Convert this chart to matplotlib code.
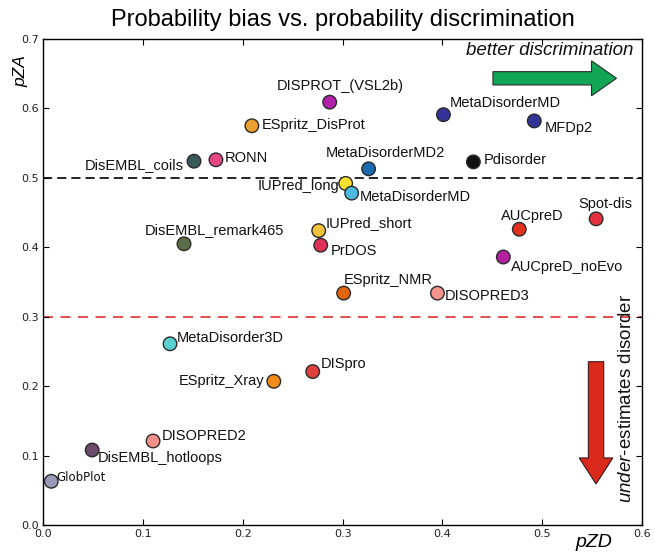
import matplotlib
matplotlib.use("Agg")
import matplotlib.pyplot as plt
from matplotlib.patches import FancyArrow

plt.rcParams['mathtext.fontset'] = 'custom'
plt.rcParams['mathtext.it'] = 'Liberation Sans:italic'
plt.rcParams['mathtext.rm'] = 'Liberation Sans'

# ---- data ----
methods = ["GlobPlot", "DisEMBL_hotloops", "DISOPRED2", "MetaDisorder3D",
           "ESpritz_Xray", "DISpro", "ESpritz_NMR", "DISOPRED3",
           "DisEMBL_remark465", "IUPred_short", "PrDOS", "IUPred_long",
           "MetaDisorderMD", "MetaDisorderMD2", "DisEMBL_coils", "RONN",
           "ESpritz_DisProt", "DISPROT_(VSL2b)", "MetaDisorderMD", "MFDp2",
           "Pdisorder", "Spot-dis", "AUCpreD", "AUCpreD_noEvo"]
pzd = [0.008, 0.049, 0.110, 0.127,
       0.231, 0.270, 0.301, 0.395,
       0.141, 0.276, 0.278, 0.303,
       0.309, 0.326, 0.151, 0.173,
       0.209, 0.287, 0.401, 0.492,
       0.431, 0.554, 0.477, 0.461]
pza = [0.063, 0.108, 0.121, 0.261,
       0.207, 0.221, 0.334, 0.334,
       0.405, 0.424, 0.403, 0.492,
       0.478, 0.513, 0.524, 0.526,
       0.575, 0.609, 0.591, 0.582,
       0.523, 0.441, 0.426, 0.386]
colors = ["#9a9ab8", "#6b4a6b", "#f4918a", "#5ccfcf",
          "#f28c1a", "#e04040", "#e0650f", "#f4948a",
          "#5a6e4a", "#f4c238", "#e0305a", "#f8e030",
          "#4cb8e0", "#1a6ab0", "#3a5a5a", "#e84880",
          "#e8a030", "#b020a8", "#33339a", "#33339a",
          "#111111", "#e63040", "#e03020", "#b020a0"]
x_ticks = [0.0, 0.1, 0.2, 0.3, 0.4, 0.5, 0.6]
y_ticks = [0.0, 0.1, 0.2, 0.3, 0.4, 0.5, 0.6, 0.7]
ref_lines = [0.5, 0.3]

# label placement (pixel offsets from the point, horizontal alignment)
label_style = [(5, 4, 'left'), (6, -8, 'left'), (9, 5, 'left'), (7, 6, 'left'),
               (-9, 0, 'right'), (8, 8, 'left'), (0, 13, 'left'), (7, -3, 'left'),
               (-39, 14, 'left'), (7, 8, 'left'), (10, -6, 'left'), (-6, -3, 'right'),
               (8, -4, 'left'), (-43, 16, 'left'), (-10, -4, 'right'), (9, 2, 'left'),
               (10, 1, 'left'), (-53, 16, 'left'), (6, 12, 'left'), (10, -7, 'left'),
               (10, 2, 'left'), (-18, 15, 'left'), (-18, 13, 'left'), (8, -10, 'left')]

fig = plt.figure(figsize=(6.55, 5.53), dpi=100)
ax = fig.add_axes([0.0661, 0.0506, 0.9141, 0.8789])

ax.axhline(ref_lines[0], color='black', lw=1.2, ls=(0, (5.5, 3)), zorder=1)
ax.axhline(ref_lines[1], color='#e03030', lw=1.2, ls=(0, (6, 4.5)), zorder=1)

ax.scatter(pzd, pza, s=95, c=colors, edgecolors='#2a2a2a', linewidths=1.0, zorder=3)

for name, x, y, (dx, dy, ha) in zip(methods, pzd, pza, label_style):
    if name == "GlobPlot":
        fp = dict(fontsize=8.5, family='DejaVu Sans')
    else:
        fp = dict(fontsize=10.5, family='Liberation Sans')
    ax.annotate(name, (x, y), xytext=(dx, dy), textcoords='offset pixels',
                ha=ha, va='center', color='#111111', zorder=4, **fp)

ax.set_xlim(x_ticks[0], x_ticks[-1])
ax.set_ylim(y_ticks[0], y_ticks[-1])
ax.set_xticks(x_ticks)
ax.set_yticks(y_ticks)
ax.set_xticklabels([f"{v:.1f}" for v in x_ticks])
ax.set_yticklabels([f"{v:.1f}" for v in y_ticks])
ax.tick_params(direction='in', length=4, width=0.8, top=True, right=True,
               labelsize=8, labelcolor='#222222', pad=3)
for sp in ax.spines.values():
    sp.set_linewidth(1.0)

ax.set_xlabel("pZD", fontsize=14, style='italic', family='Liberation Sans')
ax.xaxis.set_label_coords(0.919, -0.019)
ax.set_ylabel("pZA", fontsize=12.5, style='italic', family='Liberation Sans')
ax.yaxis.set_label_coords(-0.024, 0.935)

ax.set_title("Probability bias vs. probability discrimination",
             fontsize=17, family='Liberation Sans', pad=9)

# annotations: arrows and texts
ax.add_patch(FancyArrow(0.751, 0.9191, 0.1646, 0.0, width=0.0274,
                        head_width=0.072, head_length=0.0418,
                        length_includes_head=False, transform=ax.transAxes,
                        facecolor='#12a556', edgecolor='#2b2b2b', lw=0.8, zorder=5))
ax.add_patch(FancyArrow(0.9232, 0.336, 0.0, -0.198, width=0.0256,
                        head_width=0.0561, head_length=0.0535,
                        length_includes_head=False, transform=ax.transAxes,
                        facecolor='#d92a1c', edgecolor='#3a1a1a', lw=0.8, zorder=5))
ax.text(0.985, 0.977, "better discrimination", transform=ax.transAxes,
        ha='right', va='center', fontsize=13.5, style='italic',
        family='Liberation Sans', color='#111111')
ax.text(0.974, 0.2605, r"$\mathit{under}$-estimates disorder", transform=ax.transAxes,
        ha='center', va='center', rotation=90, fontsize=13.5,
        family='Liberation Sans', color='#111111')

fig.savefig("out.png", dpi=100)
